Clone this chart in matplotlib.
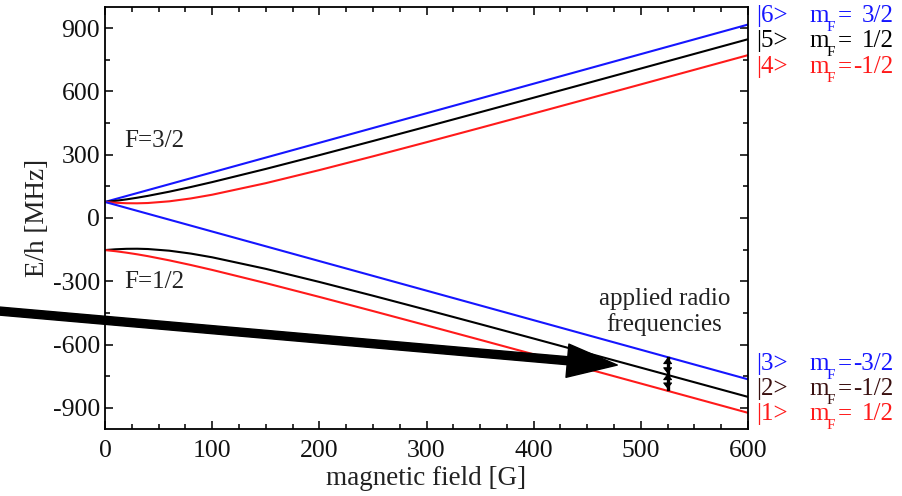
import numpy as np
import matplotlib.pyplot as plt

plt.rcParams['font.family'] = 'Liberation Serif'
plt.rcParams['axes.unicode_minus'] = False

# magnetic field [G] and level energies E/h [MHz]
field = [0, 10, 20, 30, 40, 60, 80, 100, 150, 200, 250, 300, 350, 400, 450, 500, 550, 600]
e6 = [76.1, 90.1, 104.1, 118.1, 132.1, 160.1, 188.2, 216.2, 286.3, 356.3, 426.4, 496.4,
      566.5, 636.5, 706.6, 776.7, 846.7, 916.8]
e5 = [76.1, 81.5, 88.2, 96.1, 104.9, 124.7, 146.7, 170.1, 232.5, 297.9, 364.9, 432.8,
      501.3, 570.1, 639.1, 708.4, 777.8, 847.3]
e4 = [76.1, 72.2, 70.0, 69.6, 71.0, 79.0, 92.6, 110.3, 165.0, 227.0, 292.2, 359.1,
      427.0, 495.4, 564.2, 633.2, 702.5, 771.8]
e3 = [76.1, 62.1, 48.0, 34.0, 20.0, -8.0, -36.0, -64.1, -134.1, -204.2, -274.2, -344.3,
      -414.3, -484.4, -554.5, -624.5, -694.6, -764.6]
e2 = [-152.1, -148.3, -146.1, -145.7, -147.1, -155.0, -168.6, -186.3, -241.0, -303.1,
      -368.3, -435.2, -503.0, -571.4, -640.2, -709.3, -778.5, -847.9]
e1 = [-152.1, -157.5, -164.3, -172.1, -180.9, -200.8, -222.7, -246.1, -308.6, -374.0,
      -441.0, -508.9, -577.3, -646.1, -715.2, -784.5, -853.9, -923.4]

kets = ['|6>', '|5>', '|4>', '|3>', '|2>', '|1>']
mf_labels = ['3/2', '1/2', '-1/2', '-3/2', '-1/2', '1/2']
colors = ['#1515ff', 'black', '#ff1a1a', '#1515ff', '#3a1010', '#ff1a1a']
label_y = [929, 810, 687, -720, -839, -957]

# radio frequency transitions at 525 G
rf_field = 525
rf_levels = [-662, -738, -810]

fig = plt.figure(figsize=(9.02, 4.96), dpi=100)
ax = fig.add_axes([0.1164, 0.1351, 0.7129, 0.8508])

for e, c in zip([e6, e5, e4, e3, e2, e1], ['#1515ff', 'black', '#ff1a1a'] * 2):
    ax.plot(field, e, color=c, lw=1.5)

ax.set_xlim(0, 600)
ax.set_ylim(-1000, 1000)
ax.set_xticks(np.arange(0, 601, 100))
ax.set_xticks(np.arange(25, 600, 25), minor=True)
ax.set_yticks(np.arange(-900, 901, 300))
ax.set_yticks(np.arange(-750, 901, 300), minor=True)
ax.tick_params(which='both', direction='in', top=True, right=True, width=1.2,
               labelsize=18.5, colors='#111111')
ax.tick_params(which='major', length=6)
ax.tick_params(which='minor', length=3.5)
ax.tick_params(axis='x', which='major', pad=8)
for s in ax.spines.values():
    s.set_linewidth(1.3)

ax.set_xlabel('magnetic field [G]', fontsize=19.5, color='#222222', labelpad=3)
ax.set_ylabel('E/h [MHz]', fontsize=19.5, color='#222222', labelpad=2)

ax.text(18, 337, 'F=3/2', fontsize=18, color='#222222')
ax.text(18, -332, 'F=1/2', fontsize=18, color='#222222')
ax.text(522, -445, 'applied radio\nfrequencies', fontsize=18, color='#222222',
        ha='center', va='center', linespacing=1.2)

# level labels on the right: |n>  m_F = value
for k, m, c, y in zip(kets, mf_labels, colors, label_y):
    ax.text(608, y, k, fontsize=18, color=c, clip_on=False)
    ax.text(657.5, y, 'm', fontsize=18, color=c, clip_on=False)
    ax.text(673.5, y - 43, 'F', fontsize=11, color=c, clip_on=False)
    ax.text(684, y, '=', fontsize=18, color=c, clip_on=False)
    ax.text(736, y, m, fontsize=18, color=c, ha='right', clip_on=False)

# double arrows for the rf transitions: shaft plus a head at every level
ax.plot([rf_field, rf_field], [rf_levels[0], rf_levels[-1]], color='black', lw=2.4)
for lo, hi in zip(rf_levels[1:], rf_levels[:-1]):
    mid = (lo + hi) / 2
    for end in (lo, hi):
        ax.annotate('', xy=(rf_field, end), xytext=(rf_field, mid),
                    arrowprops=dict(arrowstyle='-|>,head_length=3.6,head_width=2.8',
                                    mutation_scale=1, color='black', lw=0.8,
                                    shrinkA=0, shrinkB=0))

# big pointer arrow
ax.annotate('', xy=(478, -697), xytext=(-110, -436), annotation_clip=False,
            arrowprops=dict(arrowstyle='simple,head_length=36,head_width=24,tail_width=5.8',
                            mutation_scale=1, color='black', shrinkA=0, shrinkB=0))

fig.savefig('out.png', dpi=100)
